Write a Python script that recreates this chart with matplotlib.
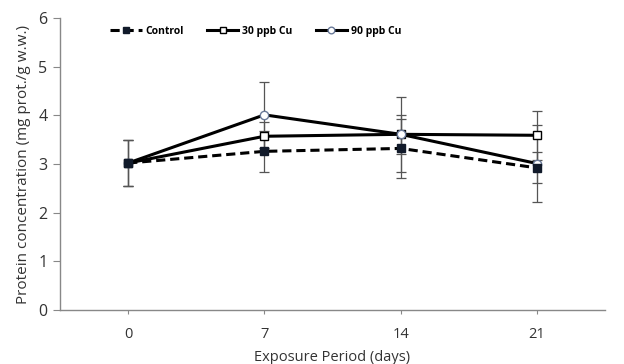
import matplotlib
matplotlib.use("Agg")
import matplotlib.pyplot as plt
import numpy as np

days = ["0", "7", "14", "21"]
control = [3.02, 3.26, 3.32, 2.92]
control_err = [0.48, 0.42, 0.60, 0.32]
cu30 = [3.02, 3.57, 3.61, 3.59]
cu30_err = [0.48, 0.30, 0.77, 0.50]
cu90 = [3.02, 4.01, 3.61, 3.01]
cu90_err = [0.48, 0.68, 0.40, 0.80]

plt.rcParams['font.family'] = ['Open Sans', 'DejaVu Sans']

fig = plt.figure(figsize=(6.24, 3.64), dpi=100)
ax = fig.add_axes([0.0962, 0.1484, 0.8734, 0.8021])
x = np.arange(len(days))

ekw = dict(ecolor='#555555', elinewidth=0.9, capsize=3.5, capthick=0.9)
ax.errorbar(x, control, yerr=control_err, fmt='none', zorder=1, **ekw)
ax.errorbar(x, cu30, yerr=cu30_err, fmt='none', zorder=1, **ekw)
ax.errorbar(x, cu90, yerr=cu90_err, fmt='none', zorder=1, **ekw)

ax.plot(x, cu30, color='black', lw=2.2, marker='s', ms=6,
        mfc='white', mec='black', mew=1.0, label='30 ppb Cu', zorder=3)
ax.plot(x, cu90, color='black', lw=2.2, marker='o', ms=6,
        mfc='white', mec='#6a7a99', mew=1.0, label='90 ppb Cu', zorder=4)
ax.plot(x, control, color='black', lw=2.2, ls=(0, (3, 1.6)), marker='s', ms=6,
        mfc='#111a2a', mec='#111a2a', label='Control', zorder=5)

ax.set_xlim(-0.5, 3.5)
ax.set_ylim(0, 6)
ax.set_xticks(x)
ax.set_xticklabels(days)
ax.set_yticks(range(0, 7))
for s in ['top', 'right']:
    ax.spines[s].set_visible(False)
for s in ['left', 'bottom']:
    ax.spines[s].set_color('#888888')
    ax.spines[s].set_linewidth(1.0)
ax.tick_params(axis='y', length=5, color='#888888', labelsize=11.5, labelcolor='#333333', pad=4)
ax.tick_params(axis='x', length=3, color='#888888', labelsize=10.5, labelcolor='#333333', pad=9)
ax.set_ylabel('Protein concentration (mg prot./g w.w.)', fontsize=11, color='#333333', labelpad=5)
ax.set_xlabel('Exposure Period (days)', fontsize=10.5, color='#333333', labelpad=6)

handles, labels = ax.get_legend_handles_labels()
order = [2, 0, 1]
leg = ax.legend([handles[i] for i in order], [labels[i] for i in order],
                loc='upper left', bbox_to_anchor=(0.075, 1.005), ncol=3, frameon=False,
                prop={'weight': 'bold', 'size': 7.5}, handlelength=3.0, columnspacing=2.2,
                handletextpad=0.4, markerscale=0.8)

fig.savefig('out.png', dpi=100)
